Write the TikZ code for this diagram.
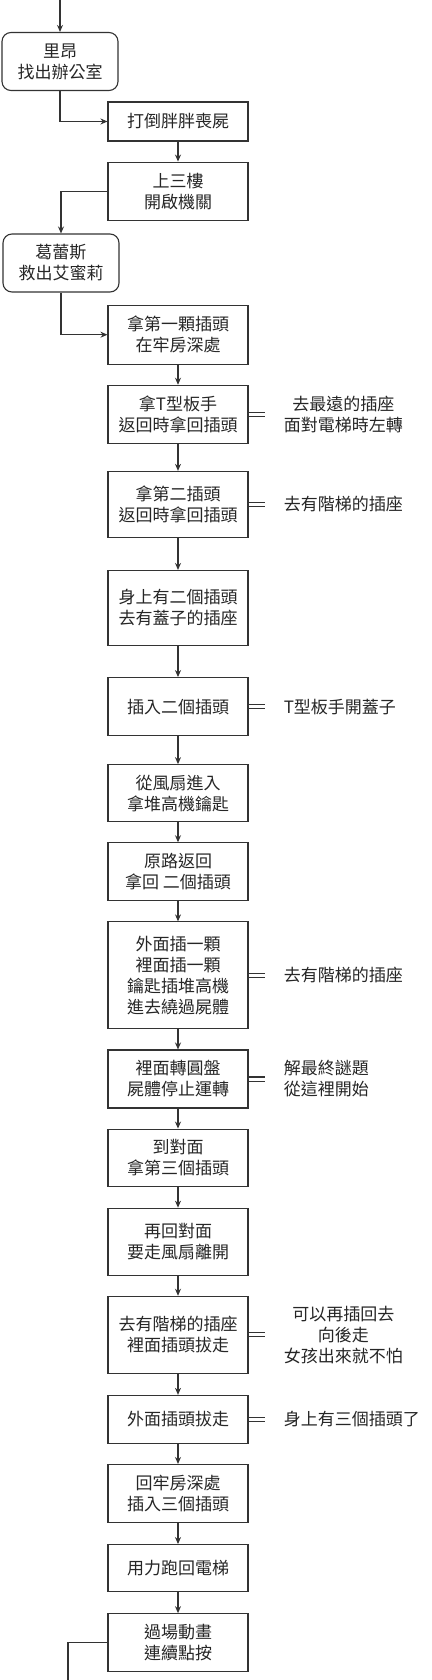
\documentclass[tikz,border=0pt]{standalone}
\usepackage{fontspec}
\setmainfont{Noto Sans CJK TC}
\usetikzlibrary{positioning}
\usetikzlibrary{arrows.meta}
\tikzset{main node/.style={rectangle,draw=black!80,line width=1.1pt,minimum width=140pt,inner sep=2pt,align=center,text=black!85,font=\fontsize{17}{21}\selectfont},
round node/.style={main node,rounded corners=9pt,minimum width=116pt,minimum height=58pt},
note node/.style={align=center,inner sep=3pt,text=black!85,font=\fontsize{17}{21}\selectfont},
link/.style={->,draw=black!80,line width=1.1pt},
same/.style={-,draw=black!80,double=white,double distance=3pt,line width=1.1pt,shorten >=16pt}}
\begin{document}
\begin{tikzpicture}[x=1pt, y=-1pt, >={Stealth[length=7pt,width=6pt]}, node distance=20pt]
    \useasboundingbox (0,0) rectangle (431,1680);
    \coordinate (start) at (60,0);
    \coordinate (finish) at (68,1680);
    \node[round node] (leon) at (60,61.5) {里昂\\找出辦公室};
    \node[main node, minimum height=39pt] (fatty) at (178,121.5) {打倒胖胖喪屍};
    \node[main node, minimum height=58pt] (floor3) [below = of fatty] {上三樓\\開啟機關};
    \node[round node] (grace) at (61,263) {葛蕾斯\\救出艾蜜莉};
    \node[main node, minimum height=59pt] (plug1) [below = 84pt of floor3] {拿第一顆插頭\\在牢房深處};
    \node[main node, minimum height=58pt] (wrench) [below = of plug1] {拿T型板手\\返回時拿回插頭};
    \node[main node, minimum height=66pt] (plug2) [below = 27pt of wrench] {拿第二插頭\\返回時拿回插頭};
    \node[main node, minimum height=75pt] (carry2) [below = 32pt of plug2] {身上有二個插頭\\去有蓋子的插座};
    \node[main node, minimum height=58pt] (insert2) [below = 31pt of carry2] {插入二個插頭};
    \node[main node, minimum height=57pt] (fan) [below = 28pt of insert2] {從風扇進入\\拿堆高機鑰匙};
    \node[main node, minimum height=58pt] (back) [below = of fan] {原路返回\\拿回 二個插頭};
    \node[main node, minimum height=107pt] (inside) [below = of back] {外面插一顆\\裡面插一顆\\鑰匙插堆高機\\進去繞過屍體};
    \node[main node, minimum height=58pt] (disc) [below = of inside] {裡面轉圓盤\\屍體停止運轉};
    \node[main node, minimum height=57pt] (across) [below = of disc] {到對面\\拿第三個插頭};
    \node[main node, minimum height=67pt] (leave) [below = 21pt of across] {再回對面\\要走風扇離開};
    \node[main node, minimum height=77pt] (pullin) [below = of leave] {去有階梯的插座\\裡面插頭拔走};
    \node[main node, minimum height=48pt] (pullout) [below = 21pt of pullin] {外面插頭拔走};
    \node[main node, minimum height=58pt] (cell) [below = of pullout] {回牢房深處\\插入三個插頭};
    \node[main node, minimum height=47pt] (run) [below = 21pt of cell] {用力跑回電梯};
    \node[main node, minimum height=58pt] (movie) [below = 21pt of run] {過場動畫\\連續點按};

    % side notes
    \node[note node] (nwrench) [right = 32pt of wrench] {去最遠的插座\\面對電梯時左轉};
    \node[note node] (nplug2) [right = 32pt of plug2] {去有階梯的插座};
    \node[note node] (ninsert2) [right = 32pt of insert2] {T型板手開蓋子};
    \node[note node] (ninside) [right = 32pt of inside] {去有階梯的插座};
    \node[note node] (ndisc) [right = 32pt of disc] {解最終謎題\\從這裡開始};
    \node[note node] (npullin) [right = 32pt of pullin] {可以再插回去\\向後走\\女孩出來就不怕};
    \node[note node] (npullout) [right = 32pt of pullout] {身上有三個插頭了};

    \path[every edge/.append style={link}]
    (start) edge (leon)
    (fatty) edge (floor3)
    (plug1) edge (wrench)
    (wrench) edge (plug2)
    (plug2) edge (carry2)
    (carry2) edge (insert2)
    (insert2) edge (fan)
    (fan) edge (back)
    (back) edge (inside)
    (inside) edge (disc)
    (disc) edge (across)
    (across) edge (leave)
    (leave) edge (pullin)
    (pullin) edge (pullout)
    (pullout) edge (cell)
    (cell) edge (run)
    (run) edge (movie);
    \draw[link] (leon.south) |- (fatty.west);
    \draw[link] (floor3.west) -| (grace.north);
    \draw[link] (grace.south) |- (plug1.west);
    \draw[link, -] (movie.west) -| (finish);

    \foreach \b in {wrench,plug2,insert2,inside,disc,pullin,pullout}
        \draw[same] (\b) -- (n\b);
\end{tikzpicture}
\end{document}
